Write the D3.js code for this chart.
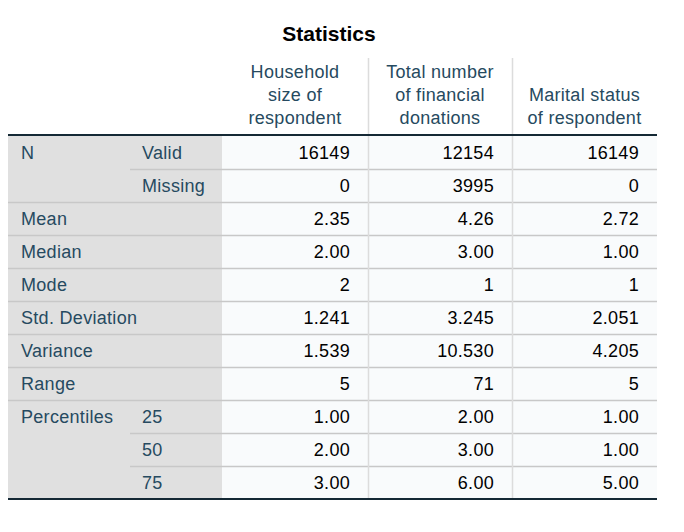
<!DOCTYPE html>
<html>
<head>
<meta charset="utf-8">
<script src="https://cdn.jsdelivr.net/npm/d3@7"></script>
<style>
  html, body { margin: 0; padding: 0; background: #ffffff; }
  svg { display: block; }
  text { font-family: "Liberation Sans", Arial, sans-serif; }
</style>
</head>
<body>
<svg id="chart" width="684" height="532"></svg>
<script>
// ---- data ----
const title = "Statistics";
const columnHeaders = [
  ["Household", "size of", "respondent"],
  ["Total number", "of financial", "donations"],
  ["Marital status", "of respondent"]
];
const rowLabels = ["N", "", "Mean", "Median", "Mode", "Std. Deviation", "Variance", "Range", "Percentiles", "", ""];
const subLabels = ["Valid", "Missing", "", "", "", "", "", "", "25", "50", "75"];
const householdSize = ["16149", "0", "2.35", "2.00", "2", "1.241", "1.539", "5", "1.00", "2.00", "3.00"];
const financialDonations = ["12154", "3995", "4.26", "3.00", "1", "3.245", "10.530", "71", "2.00", "3.00", "6.00"];
const maritalStatus = ["16149", "0", "2.72", "1.00", "1", "2.051", "4.205", "5", "1.00", "1.00", "5.00"];

const series = [householdSize, financialDonations, maritalStatus];

// ---- layout ----
const svg = d3.select("#chart");
const leftX = 8, rightX = 657;
const labelSplit = 130, dataStart = 222;
const colEdges = [222, 368, 512, 657];
const tableTop = 136, rowH = 33;
const headerTop = 58;
const nRows = rowLabels.length;
const txtColor = "#264a60";
const fontSize = 18;
const ls = "0.3px";

const y = d3.scaleBand().domain(d3.range(nRows)).range([tableTop, tableTop + rowH * nRows]).padding(0);
const x = d3.scaleOrdinal().domain([0, 1, 2]).range([0, 1, 2]);

// title
svg.append("text")
  .attr("x", 329).attr("y", 41)
  .attr("text-anchor", "middle")
  .attr("font-size", 21).attr("font-weight", "bold")
  .attr("fill", "#000")
  .text(title);

// backgrounds
svg.append("rect").attr("x", leftX).attr("y", tableTop).attr("width", dataStart - leftX).attr("height", rowH * nRows).attr("fill", "#e0e0e0");
svg.append("rect").attr("x", dataStart).attr("y", tableTop).attr("width", rightX - dataStart).attr("height", rowH * nRows).attr("fill", "#f9fbfc");

// horizontal row separators
for (let i = 0; i < nRows - 1; i++) {
  const next = i + 1;
  const x0 = rowLabels[next] === "" ? labelSplit : leftX;
  svg.append("line")
    .attr("x1", x0).attr("x2", rightX)
    .attr("y1", y(i) + rowH + 0.5).attr("y2", y(i) + rowH + 0.5)
    .attr("stroke", "#c8c8c8").attr("stroke-width", 1.5);
}

// vertical column separators
[colEdges[1], colEdges[2]].forEach(cx => {
  svg.append("line")
    .attr("x1", cx + 0.5).attr("x2", cx + 0.5)
    .attr("y1", headerTop).attr("y2", tableTop + rowH * nRows)
    .attr("stroke", "#dcdcdc").attr("stroke-width", 1.5);
});

// header text (bottom aligned)
columnHeaders.forEach((lines, c) => {
  const cx = (colEdges[c] + colEdges[c + 1]) / 2;
  const n = lines.length;
  lines.forEach((ln, k) => {
    svg.append("text")
      .attr("x", cx).attr("y", 124 - (n - 1 - k) * 23)
      .attr("text-anchor", "middle")
      .attr("font-size", fontSize).attr("letter-spacing", ls)
      .attr("fill", txtColor)
      .text(ln);
  });
});

// thick header rule and bottom rule
svg.append("line").attr("x1", leftX).attr("x2", rightX).attr("y1", tableTop - 1).attr("y2", tableTop - 1)
  .attr("stroke", "#152935").attr("stroke-width", 2);
svg.append("line").attr("x1", leftX).attr("x2", rightX).attr("y1", tableTop + rowH * nRows).attr("y2", tableTop + rowH * nRows)
  .attr("stroke", "#152935").attr("stroke-width", 2);

// row labels
const rows = svg.append("g").selectAll("g").data(d3.range(nRows)).join("g");
rows.append("text")
  .attr("x", 21).attr("y", i => y(i) + rowH / 2 + 6.5)
  .attr("font-size", fontSize).attr("letter-spacing", ls)
  .attr("fill", txtColor)
  .text(i => rowLabels[i]);
rows.append("text")
  .attr("x", 142).attr("y", i => y(i) + rowH / 2 + 6.5)
  .attr("font-size", fontSize).attr("letter-spacing", ls)
  .attr("fill", txtColor)
  .text(i => subLabels[i]);

// values
series.forEach((vals, c) => {
  svg.append("g").selectAll("text").data(vals).join("text")
    .attr("x", colEdges[x(c) + 1] - 18)
    .attr("y", (d, i) => y(i) + rowH / 2 + 6.5)
    .attr("text-anchor", "end")
    .attr("font-size", fontSize).attr("letter-spacing", ls)
    .attr("fill", "#010101")
    .text(d => d);
});
</script>
</body>
</html>
